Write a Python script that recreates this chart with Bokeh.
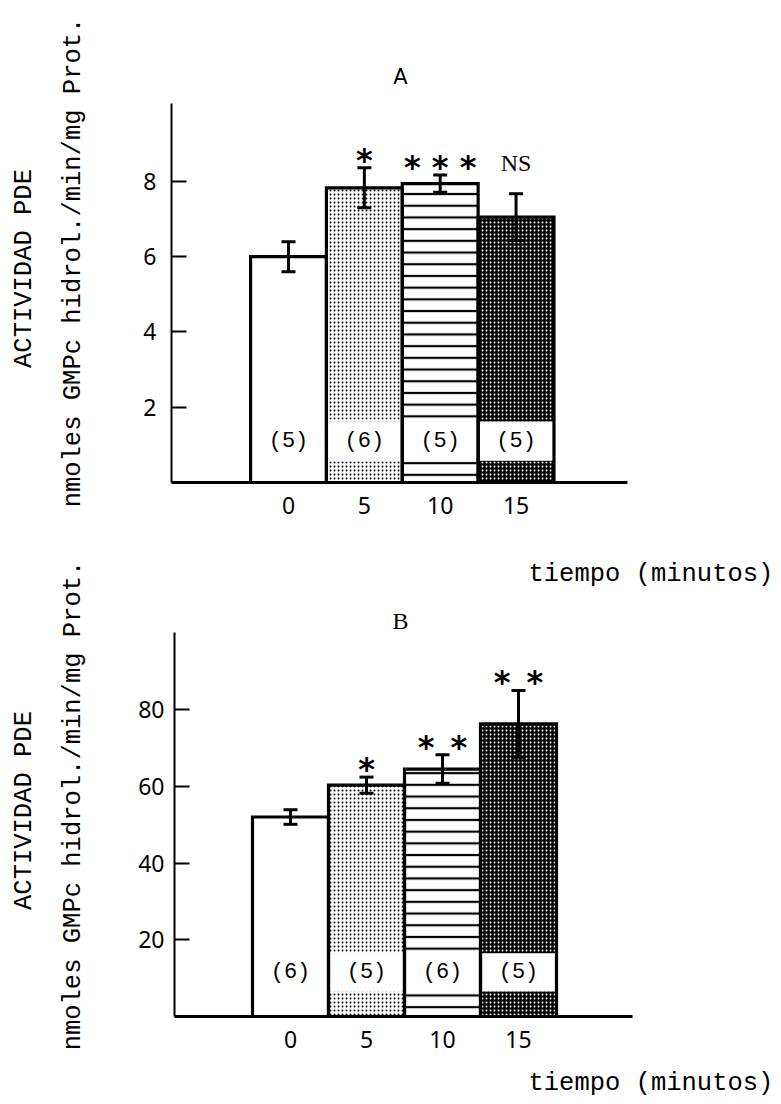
import math
from bokeh.plotting import figure
from bokeh.models import Range1d, ColumnDataSource, Whisker, TeeHead, Label, FixedTicker, LinearAxis
from bokeh.layouts import column
from bokeh.embed import file_html
from bokeh.resources import INLINE
from bokeh.core.properties import value

# ---------------- data ----------------
times = [0, 5, 10, 15]

a_mean = [6.0, 7.83, 7.94, 7.05]
a_err = [0.40, 0.53, 0.23, 0.62]
a_n = ["(5)", "(6)", "(5)", "(5)"]
a_sig = ["", "*", "***", "NS"]
a_yticks = [2, 4, 6, 8]

b_mean = [52.0, 60.3, 64.5, 76.3]
b_err = [1.9, 2.1, 3.7, 8.7]
b_n = ["(6)", "(5)", "(6)", "(5)"]
b_sig = ["", "*", "**", "**"]
b_yticks = [20, 40, 60, 80]

ylab1 = "ACTIVIDAD PDE"
ylab2 = "nmoles GMPc hidrol./min/mg Prot."
xlab = "tiempo (minutos)"

# ---------------- styles ----------------
fills = ["white", "white", "white", "black"]
hatches = ["blank", "dot", "horizontal_line", "dot"]
hatch_colors = ["black", "black", "black", "white"]
hatch_scales = [5, 4, 11.7, 4]
hatch_weights = [1, 1.3, 2.2, 1.4]

MONO = "Liberation Mono"
TICKF = "Noto Sans"
BAR_W = 5.0
FIG_W = 781
ORIGIN = 0  # page origin in picture pixels (template has no body margin)


def star_text(s):
    if s == "***":
        return "* * *"
    if s == "**":
        return "*\u2002*"
    return s


class Panel:
    """Figure whose frame fills the whole canvas; helpers map picture px to data."""

    def __init__(self, fig_top, fig_h, ax_left, ax_top, ax_right, ax_bottom, x0px, kx, ymax):
        self.kx = kx
        self.x0px = x0px
        self.bottom = ax_bottom
        self.ky = (ax_bottom - ax_top) / ymax
        self.ymax = ymax
        self.ax_left = ax_left
        self.ax_right = ax_right
        p = figure(width=FIG_W, height=fig_h,
                   x_range=Range1d(self.X(ORIGIN), self.X(ORIGIN + FIG_W)),
                   y_range=Range1d(self.Y(fig_top + fig_h), self.Y(fig_top)),
                   output_backend="svg", toolbar_location=None,
                   x_axis_location=None, y_axis_location=None,
                   min_border=0)
        p.min_border_left = 0
        p.min_border_right = 0
        p.min_border_top = 0
        p.min_border_bottom = 0
        p.outline_line_color = None
        p.xgrid.visible = False
        p.ygrid.visible = False
        self.p = p

    def X(self, px):
        return (px - self.x0px) / self.kx

    def Y(self, py):
        return (self.bottom - py) / self.ky

    def label(self, px, py, text, font, size, align="center", angle=0.0, style="normal"):
        self.p.add_layout(Label(x=self.X(px), y=self.Y(py), text=text, angle=angle,
                                text_font=font, text_font_size=size, text_font_style=style,
                                text_align=align, text_baseline="middle", text_color="black"))


def draw(panel, mean, err, n, sig, yticks, band, label_standoff):
    p = panel.p
    src = ColumnDataSource(dict(
        left=[t - BAR_W / 2 for t in times],
        right=[t + BAR_W / 2 for t in times],
        top=mean, bottom=[0] * len(times),
        fill=fills, hatch=hatches, hc=hatch_colors, hs=hatch_scales, hw=hatch_weights,
    ))
    p.quad(left="left", right="right", top="top", bottom="bottom", source=src,
           fill_color="fill", line_color=None, hatch_pattern="hatch",
           hatch_color="hc", hatch_scale="hs", hatch_weight="hw")

    # white boxes behind the (n) labels
    wb = ColumnDataSource(dict(
        left=[t - BAR_W / 2 for t in times[1:]],
        right=[t + BAR_W / 2 for t in times[1:]],
    ))
    p.quad(left="left", right="right", top=band[1], bottom=band[0], source=wb,
           fill_color="white", line_color=None)

    # bar outlines
    p.quad(left="left", right="right", top="top", bottom="bottom", source=src,
           fill_color=None, line_color="black", line_width=3.2, line_join="miter")

    # error bars
    es = ColumnDataSource(dict(x=times,
                               up=[m + e for m, e in zip(mean, err)],
                               lo=[m - e for m, e in zip(mean, err)]))
    p.add_layout(Whisker(source=es, base="x", upper="up", lower="lo", dimension="height",
                         line_width=3, line_color="black", level="annotation",
                         upper_head=TeeHead(size=14, line_width=3, line_color="black"),
                         lower_head=TeeHead(size=14, line_width=3, line_color="black")))

    # significance marks
    st = dict(x=[], y=[], t=[])
    ns = dict(x=[], y=[], t=[])
    for t, m, e, s in zip(times, mean, err, sig):
        if not s:
            continue
        d = ns if s == "NS" else st
        d["x"].append(t)
        d["y"].append(m + e)
        d["t"].append(star_text(s))
    p.text(x="x", y="y", text="t", source=ColumnDataSource(st),
           text_font=value("DejaVu Sans"), text_font_style="bold",
           text_font_size="32px", text_align="center", text_baseline="middle",
           y_offset=-8, text_color="black")
    if ns["x"]:
        p.text(x="x", y="y", text="t", source=ColumnDataSource(ns),
               text_font=value("Liberation Serif"), text_font_size="24px",
               text_align="center", text_baseline="middle", y_offset=-31,
               text_color="black")

    # (n) labels
    p.text(x=times, y=[(band[0] + band[1]) / 2] * len(times), text=n,
           text_font=value(MONO), text_font_size="22px",
           text_align="center", text_baseline="middle", text_color="black")

    # axes drawn at fixed data locations, limited by bounds
    xax = LinearAxis(fixed_location=0, bounds=(panel.X(panel.ax_left), panel.X(panel.ax_right)),
                     ticker=FixedTicker(ticks=times))
    xax.major_tick_in = 0
    xax.major_tick_out = 0
    xax.minor_tick_line_color = None
    xax.axis_line_width = 3
    xax.major_label_standoff = 14
    yax = LinearAxis(fixed_location=panel.X(panel.ax_left), bounds=(0, panel.ymax),
                     ticker=FixedTicker(ticks=yticks))
    yax.major_tick_in = 15
    yax.major_tick_out = 0
    yax.major_tick_line_width = 2
    yax.minor_tick_line_color = None
    yax.axis_line_width = 2
    yax.major_label_standoff = label_standoff
    for ax in (xax, yax):
        ax.major_label_text_font = TICKF
        ax.major_label_text_font_size = "23px"
        ax.major_label_text_color = "black"
        ax.axis_line_color = "black"
        ax.major_tick_line_color = "black"
    p.add_layout(xax, "below")
    p.add_layout(yax, "left")


# ---------------- panel A ----------------
A = Panel(fig_top=0, fig_h=544, ax_left=171, ax_top=103, ax_right=627, ax_bottom=482,
          x0px=288, kx=15.17, ymax=10.07)
draw(A, a_mean, a_err, a_n, a_sig, a_yticks, (0.58, 1.62), 15)
A.label(400, 76, "A", "DejaVu Sans", "21px")
A.label(24, 268, ylab1, MONO, "25.5px", angle=math.pi / 2)
A.label(73, 262, ylab2, MONO, "25.5px", angle=math.pi / 2)

# ---------------- panel B ----------------
B = Panel(fig_top=544, fig_h=558, ax_left=174, ax_top=632, ax_right=632, ax_bottom=1016,
          x0px=290, kx=15.2, ymax=100.1)
draw(B, b_mean, b_err, b_n, b_sig, b_yticks, (6.5, 16.5), 10)
B.label(400, 620, "B", "Liberation Serif", "24px")
B.label(24, 810, ylab1, MONO, "25.5px", angle=math.pi / 2)
B.label(73, 805, ylab2, MONO, "25.5px", angle=math.pi / 2)
B.label(528, 574, xlab, MONO, "25.5px", align="left")
B.label(528, 1083, xlab, MONO, "25.5px", align="left")

layout = column(A.p, B.p, spacing=0)
open("out.html", "w").write(file_html(layout, INLINE))
